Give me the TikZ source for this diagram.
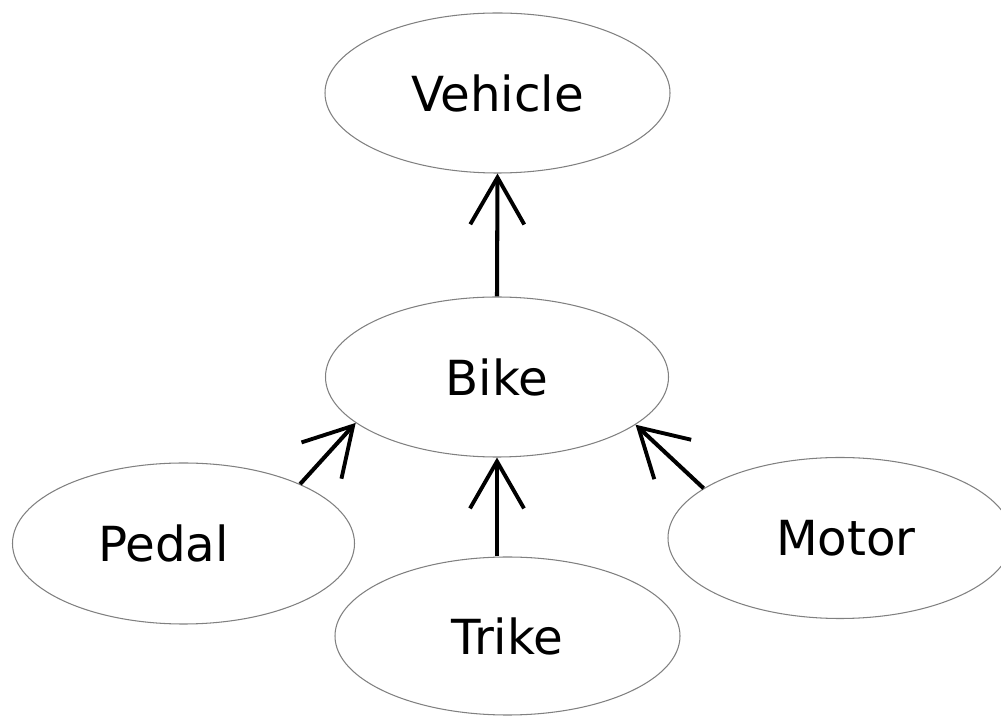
\documentclass[tikz,border=0pt]{standalone}
\usepackage{fontspec}
\setmainfont{DejaVu Sans}
\usetikzlibrary{arrows.meta,shapes.geometric}

\begin{document}
\begin{tikzpicture}[line join=round,
		cls/.style={ellipse, draw=gray, line width=0.6pt, font=\fontsize{27.5}{33}\selectfont},
		isa/.style={-{Straight Barb[length=9.4mm, width=10.8mm, line width=2.2pt]}, line width=2.3pt, black}]
		
		% Fixed picture size
		\useasboundingbox (0, 0) rectangle (20.02, 14.34);
		
		% 1. Class ellipses
		\node[cls, minimum width=6.9cm, minimum height=3.2cm] (vehicle) at (9.95, 12.48) {Vehicle};
		\node[cls, minimum width=6.86cm, minimum height=3.2cm] (bike) at (9.94, 6.80) {Bike};
		\node[cls, minimum width=6.84cm, minimum height=3.22cm] (pedal) at (3.67, 3.47) {\hspace*{-0.8cm}Pedal};
		\node[cls, minimum width=6.88cm, minimum height=3.22cm] (motor) at (16.80, 3.58) {\hspace*{0.24cm}Motor};
		\node[cls, minimum width=6.9cm, minimum height=3.16cm] (trike) at (10.15, 1.62) {Trike};
		
		% 2. Inheritance arrows
		\draw[isa] (bike.north) -- (vehicle.south);
		\draw[isa] (pedal.27.4) -- (bike.198.7);
		\draw[isa] (bike.south |- trike.north) -- (bike.south);
		\draw[isa] (motor.160.7) -- (bike.341.3);
		
	\end{tikzpicture}
\end{document}
